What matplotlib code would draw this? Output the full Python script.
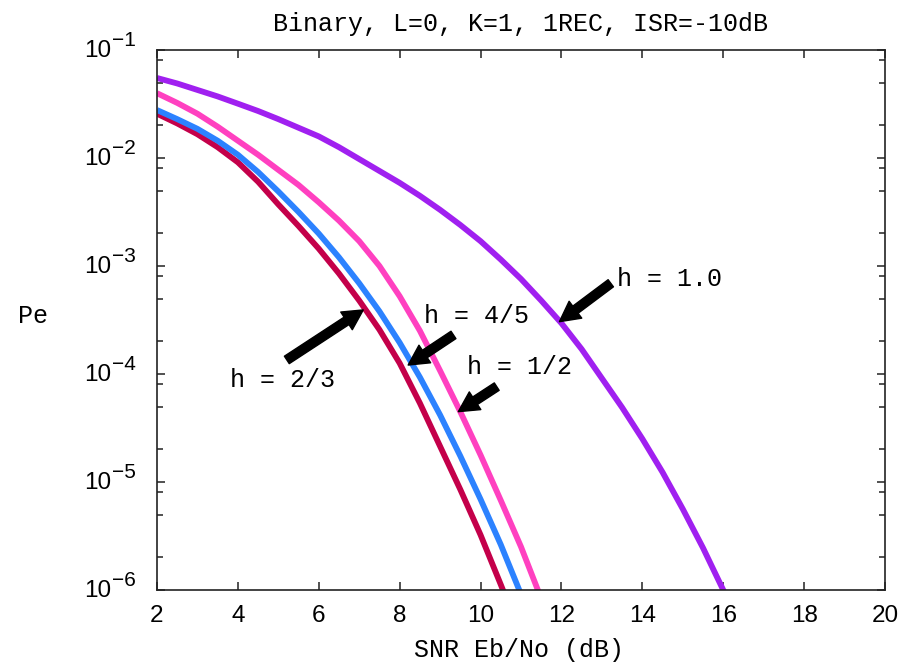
import numpy as np
import matplotlib
matplotlib.use('Agg')
import matplotlib.pyplot as plt
from matplotlib.ticker import FixedLocator, LogLocator, FuncFormatter, NullFormatter

# ---------------- data (log10 of Pe) ----------------
snr_h1 = [2, 2.5, 3, 3.5, 4, 4.5, 5, 5.5, 6, 6.5, 7, 7.5, 8, 8.5, 9, 9.5, 10,
          10.5, 11, 11.5, 12, 12.5, 13, 13.5, 14, 14.5, 15, 15.5, 16, 16.5]
log_pe_h1 = [-1.259, -1.31, -1.37, -1.43, -1.497, -1.565, -1.64, -1.72, -1.80,
             -1.90, -2.01, -2.12, -2.23, -2.35, -2.48, -2.62, -2.77, -2.94,
             -3.12, -3.32, -3.53, -3.77, -4.04, -4.31, -4.60, -4.91, -5.25,
             -5.61, -6.00, -6.40]

snr_h12 = [2, 2.5, 3, 3.5, 4, 4.5, 5, 5.5, 6, 6.5, 7, 7.5, 8, 8.5, 9, 9.5, 10,
           10.5, 11, 11.5, 12]
log_pe_h12 = [-1.40, -1.49, -1.59, -1.71, -1.84, -1.97, -2.11, -2.25, -2.41,
              -2.58, -2.77, -3.00, -3.28, -3.60, -3.97, -4.35, -4.75, -5.17,
              -5.60, -6.08, -6.60]

snr_h45 = [2, 2.5, 3, 3.5, 4, 4.5, 5, 5.5, 6, 6.5, 7, 7.5, 8, 8.5, 9, 9.5, 10,
           10.5, 11]
log_pe_h45 = [-1.556, -1.64, -1.73, -1.84, -1.97, -2.13, -2.31, -2.50, -2.70,
              -2.92, -3.16, -3.42, -3.71, -4.03, -4.38, -4.76, -5.16, -5.58,
              -6.04]

snr_h23 = [2, 2.5, 3, 3.5, 4, 4.5, 5, 5.5, 6, 6.5, 7, 7.5, 8, 8.5, 9, 9.5, 10,
           10.5, 11]
log_pe_h23 = [-1.59, -1.68, -1.78, -1.90, -2.04, -2.22, -2.43, -2.63, -2.84,
              -3.07, -3.32, -3.59, -3.90, -4.27, -4.67, -5.07, -5.49, -5.95,
              -6.42]

x_ticks = [2, 4, 6, 8, 10, 12, 14, 16, 18, 20]
y_exponents = [-6, -5, -4, -3, -2, -1]

labels = ["h = 2/3", "h = 4/5", "h = 1/2", "h = 1.0"]
label_pos = [(3.80, 7.6e-5), (8.60, 2.98e-4), (9.66, 1.0e-4), (13.37, 6.53e-4)]
arrow_tail = [(5.21, 1.35e-4), (9.33, 2.30e-4), (10.40, 7.64e-5), (13.22, 6.92e-4)]
arrow_tip = [(7.10, 3.92e-4), (8.21, 1.21e-4), (9.45, 4.48e-5), (11.95, 3.05e-4)]

# ---------------- style ----------------
mono = 'Liberation Mono'
tickfont = 'Liberation Sans'

fig = plt.figure(figsize=(9.03, 6.63), dpi=100)
ax = fig.add_axes([157/903, 1-590/663, (885-157)/903, (590-50)/663])

lw = 4.2
series = [
    (snr_h1, log_pe_h1, '#A020F0'),
    (snr_h12, log_pe_h12, '#FF40C0'),
    (snr_h23, log_pe_h23, '#C4004A'),
    (snr_h45, log_pe_h45, '#2C82FF'),
]
for xs, lys, col in series:
    ax.plot(xs, 10.0 ** np.array(lys), color=col, lw=lw, solid_capstyle='butt',
            solid_joinstyle='round')

ax.set_yscale('log')
ax.set_xlim(2, 20)
ax.set_ylim(1e-6, 1e-1)

y_ticks = [10.0 ** e for e in y_exponents]
ax.xaxis.set_major_locator(FixedLocator(x_ticks))
ax.yaxis.set_major_locator(FixedLocator(y_ticks))
ax.yaxis.set_minor_locator(LogLocator(base=10, subs=(2.0, 5.0, 8.0), numticks=20))
ax.yaxis.set_minor_formatter(NullFormatter())
ax.yaxis.set_major_formatter(NullFormatter())
ax.xaxis.set_major_formatter(FuncFormatter(lambda v, p: '%d' % v))

ax.tick_params(which='both', direction='in', top=True, right=True, color='#222222')
ax.tick_params(which='major', length=6, width=1.1)
ax.tick_params(which='minor', length=4, width=1.1)
ax.tick_params(axis='x', which='major', pad=11, labelsize=17.5)
for lab in ax.get_xticklabels():
    lab.set_fontfamily(tickfont)
for sp in ax.spines.values():
    sp.set_linewidth(1.2)
    sp.set_color('#222222')

# y tick labels: "10" with a raised exponent
for e, v in zip(y_exponents, y_ticks):
    ax.annotate('10', xy=(0, v), xycoords=('axes fraction', 'data'),
                xytext=(-46, -1), textcoords='offset pixels', ha='right', va='center',
                fontsize=17.5, family=tickfont, annotation_clip=False)
    ax.annotate('\u2212%d' % abs(e), xy=(0, v), xycoords=('axes fraction', 'data'),
                xytext=(-45, 9), textcoords='offset pixels', ha='left', va='center',
                fontsize=15, family=tickfont, annotation_clip=False)

ax.set_title('Binary, L=0, K=1, 1REC, ISR=-10dB', family=mono, fontsize=18, pad=14)
fig.text(519/903, 1-657/663, 'SNR Eb/No (dB)', family=mono, fontsize=18,
         ha='center', va='baseline')
fig.text(18/903, 1-323/663, 'Pe', family=mono, fontsize=18, ha='left', va='baseline')

for lab, pos, tail, tip in zip(labels, label_pos, arrow_tail, arrow_tip):
    ax.text(pos[0], pos[1], lab, family=mono, fontsize=18, ha='left', va='baseline')
    ax.annotate('', xy=tip, xytext=tail,
                arrowprops=dict(arrowstyle='simple,head_length=0.9,head_width=0.95,tail_width=0.4',
                                mutation_scale=16, color='black', shrinkA=0, shrinkB=0))

fig.savefig('out.png', dpi=100)
